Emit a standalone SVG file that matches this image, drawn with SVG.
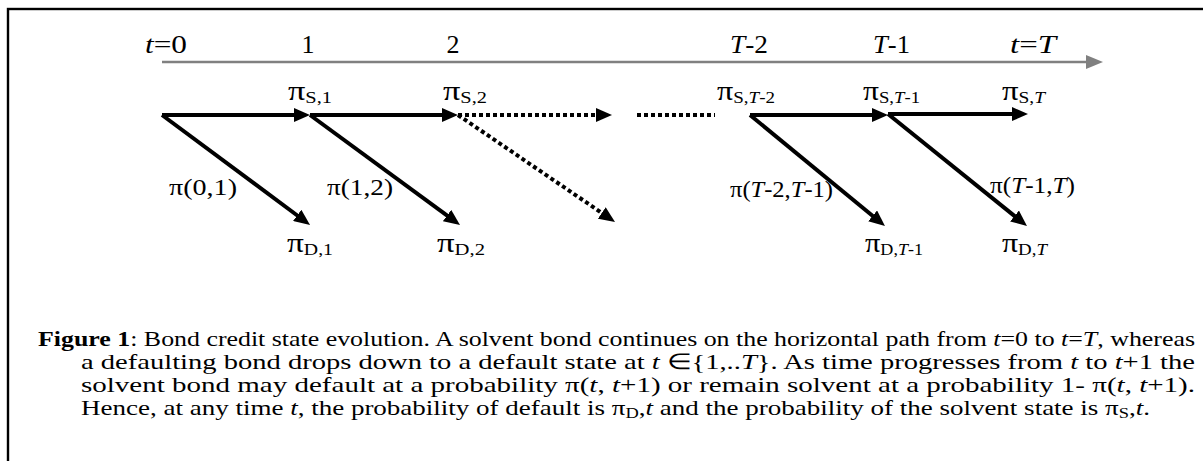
<svg xmlns="http://www.w3.org/2000/svg" width="1203" height="461" viewBox="0 0 1203 461">
<style>
text{font-family:"Liberation Serif","Times New Roman",serif;fill:#000}
.tl{font-size:26px}
.pi{font-size:27px}
.pr{font-size:24px}
.cap{font-size:22px}
.sub{font-size:16px}
.it{font-style:italic}
.arr{stroke:#000;stroke-width:4;fill:none;marker-end:url(#ah)}
.dot{stroke-dasharray:4 3}
</style>
<defs>
<marker id="ah" viewBox="0 0 16 14" markerWidth="16" markerHeight="14" refX="1" refY="7" orient="auto" markerUnits="userSpaceOnUse"><path d="M0,0 L16,7 L0,14 z" fill="#000"/></marker>
</defs>
<rect id="frame" x="8" y="9" width="1220" height="480" fill="none" stroke="#000" stroke-width="2.4"/>
<g id="timeline">
<line x1="162" y1="62" x2="1089" y2="62" stroke="#808080" stroke-width="2.5"/>
<polygon points="1086,55 1103,62 1086,69" fill="#808080"/>
<text class="tl" x="145" y="53" textLength="42" lengthAdjust="spacingAndGlyphs"><tspan class="it">t</tspan>=0</text>
<text class="tl" x="308" y="53" text-anchor="middle">1</text>
<text class="tl" x="453" y="53" text-anchor="middle">2</text>
<text class="tl" x="730" y="53" textLength="38" lengthAdjust="spacingAndGlyphs"><tspan class="it">T</tspan>-2</text>
<text class="tl" x="873" y="53" textLength="37" lengthAdjust="spacingAndGlyphs"><tspan class="it">T</tspan>-1</text>
<text class="tl" x="1010" y="53" textLength="46" lengthAdjust="spacingAndGlyphs"><tspan class="it">t</tspan>=<tspan class="it">T</tspan></text>
</g>
<g id="connectors">
<line class="arr" x1="162" y1="115" x2="295" y2="115"/>
<line class="arr" x1="310" y1="115" x2="443" y2="115"/>
<line class="arr dot" x1="458" y1="115" x2="597" y2="115"/>
<line stroke="#000" stroke-width="4" class="dot" x1="637" y1="115" x2="715" y2="115"/>
<line class="arr" x1="750" y1="115" x2="873" y2="115"/>
<line class="arr" x1="888" y1="114" x2="1013" y2="114"/>
<line class="arr" x1="162" y1="115" x2="298" y2="216"/>
<line class="arr" x1="310" y1="115" x2="447.9" y2="216.1"/>
<line class="arr dot" x1="458" y1="115" x2="602.6" y2="213.5"/>
<line class="arr" x1="750" y1="115" x2="873.4" y2="216.5"/>
<line class="arr" x1="888" y1="114" x2="1015.3" y2="216.6"/>
</g>
<g id="node-s1"><text class="pi" x="288" y="100" textLength="44" lengthAdjust="spacingAndGlyphs">π<tspan class="sub" dy="3">S,1</tspan></text></g>
<g id="node-s2"><text class="pi" x="443" y="100" textLength="44" lengthAdjust="spacingAndGlyphs">π<tspan class="sub" dy="3">S,2</tspan></text></g>
<g id="node-sT2"><text class="pi" x="717" y="100" textLength="58" lengthAdjust="spacingAndGlyphs">π<tspan class="sub" dy="3">S,</tspan><tspan class="sub it">T</tspan><tspan class="sub">-2</tspan></text></g>
<g id="node-sT1"><text class="pi" x="863" y="100" textLength="57" lengthAdjust="spacingAndGlyphs">π<tspan class="sub" dy="3">S,</tspan><tspan class="sub it">T</tspan><tspan class="sub">-1</tspan></text></g>
<g id="node-sT"><text class="pi" x="1002" y="100" textLength="43" lengthAdjust="spacingAndGlyphs">π<tspan class="sub" dy="3">S,</tspan><tspan class="sub it">T</tspan></text></g>
<g id="node-d1"><text class="pi" x="287" y="252" textLength="46" lengthAdjust="spacingAndGlyphs">π<tspan class="sub" dy="3">D,1</tspan></text></g>
<g id="node-d2"><text class="pi" x="437" y="252" textLength="48" lengthAdjust="spacingAndGlyphs">π<tspan class="sub" dy="3">D,2</tspan></text></g>
<g id="node-dT1"><text class="pi" x="865" y="252" textLength="58" lengthAdjust="spacingAndGlyphs">π<tspan class="sub" dy="3">D,</tspan><tspan class="sub it">T</tspan><tspan class="sub">-1</tspan></text></g>
<g id="node-dT"><text class="pi" x="1002" y="252" textLength="45" lengthAdjust="spacingAndGlyphs">π<tspan class="sub" dy="3">D,</tspan><tspan class="sub it">T</tspan></text></g>
<g id="labels">
<text class="pr" x="169" y="195" textLength="68" lengthAdjust="spacingAndGlyphs">π(0,1)</text>
<text class="pr" x="327" y="195" textLength="66" lengthAdjust="spacingAndGlyphs">π(1,2)</text>
<text class="pr" x="730" y="197" textLength="103" lengthAdjust="spacingAndGlyphs">π(<tspan class="it">T</tspan>-2,<tspan class="it">T</tspan>-1)</text>
<text class="pr" x="990" y="193" textLength="85" lengthAdjust="spacingAndGlyphs">π(<tspan class="it">T</tspan>-1,<tspan class="it">T</tspan>)</text>
</g>
<g id="caption">
<text class="cap" x="38" y="346" textLength="1157" lengthAdjust="spacingAndGlyphs"><tspan font-weight="bold">Figure 1</tspan>:  Bond credit state evolution. A solvent bond continues on the horizontal path from <tspan class="it">t</tspan>=0 to <tspan class="it">t</tspan>=<tspan class="it">T</tspan>, whereas</text>
<text class="cap" x="81" y="369" textLength="1114" lengthAdjust="spacingAndGlyphs">a defaulting bond drops down to a default state at <tspan class="it">t</tspan> ∈{1,..<tspan class="it">T</tspan>}. As time progresses from <tspan class="it">t</tspan> to <tspan class="it">t</tspan>+1 the</text>
<text class="cap" x="81" y="392" textLength="1114" lengthAdjust="spacingAndGlyphs">solvent bond may default at a probability π(<tspan class="it">t</tspan>, <tspan class="it">t</tspan>+1) or remain solvent at a probability 1- π(<tspan class="it">t</tspan>, <tspan class="it">t</tspan>+1).</text>
<text class="cap" x="81" y="415" textLength="1069" lengthAdjust="spacingAndGlyphs">Hence, at any time <tspan class="it">t</tspan>, the probability of default is π<tspan font-size="15px" dy="3">D</tspan><tspan dy="-3">,</tspan><tspan class="it">t</tspan> and the probability of the solvent state is π<tspan font-size="15px" dy="3">S</tspan><tspan dy="-3">,</tspan><tspan class="it">t</tspan>.</text>
</g>
</svg>
